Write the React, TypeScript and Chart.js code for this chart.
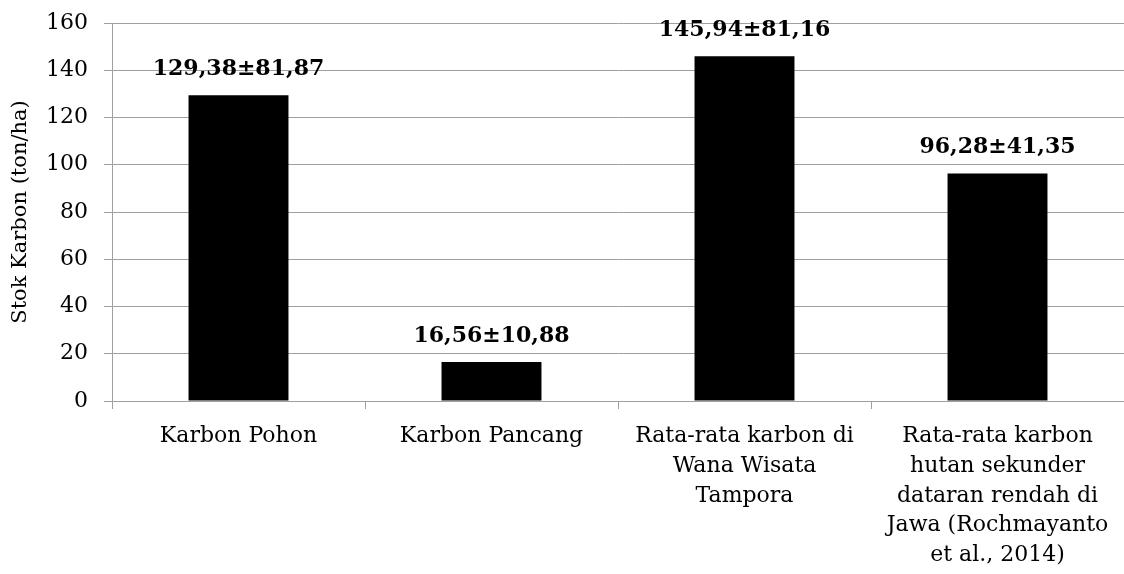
import React, { useEffect, useRef } from "react";
import { Chart, registerables } from "chart.js";

Chart.register(...registerables);

const categories: (string | string[])[] = [
  "Karbon Pohon",
  "Karbon Pancang",
  ["Rata-rata karbon di", "Wana Wisata", "Tampora"],
  ["Rata-rata karbon", "hutan sekunder", "dataran rendah di", "Jawa (Rochmayanto", "et al., 2014)"],
];
const values = [129.38, 16.56, 145.94, 96.28];
const valueLabels = ["129,38±81,87", "16,56±10,88", "145,94±81,16", "96,28±41,35"];
const yTitle = "Stok Karbon (ton/ha)";

const FONT = "'DejaVu Serif', serif";
const GRID = "#a0a0a0";

const labelPlugin = {
  id: "valueLabels",
  afterDatasetsDraw(chart: any) {
    const ctx = chart.ctx;
    const meta = chart.getDatasetMeta(0);
    ctx.save();
    ctx.font = `bold 22px ${FONT}`;
    ctx.fillStyle = "#000";
    ctx.textAlign = "center";
    ctx.textBaseline = "bottom";
    meta.data.forEach((bar: any, i: number) => {
      ctx.fillText(valueLabels[i], bar.x, bar.y - 15);
    });
    ctx.restore();
  },
};

export default function App() {
  const ref = useRef<HTMLCanvasElement>(null);
  useEffect(() => {
    document.body.style.margin = "0";
    const chart = new Chart(ref.current!, {
      type: "bar",
      data: {
        labels: categories,
        datasets: [
          {
            data: values,
            backgroundColor: "#000",
            borderWidth: 0,
            barPercentage: 0.395,
            categoryPercentage: 1,
          },
        ],
      },
      options: {
        animation: false,
        responsive: false,
        maintainAspectRatio: false,
        layout: { padding: { top: 23, right: 0, left: 0, bottom: 0 } },
        plugins: { legend: { display: false }, tooltip: { enabled: false } },
        scales: {
          x: {
            offset: true,
            grid: {
              offset: true,
              drawOnChartArea: false,
              drawTicks: true,
              tickLength: 8,
              color: GRID,
            },
            border: { color: GRID, width: 1 },
            ticks: {
              color: "#000",
              font: { family: FONT, size: 22, lineHeight: 1.36 },
              padding: 12,
              maxRotation: 0,
              autoSkip: false,
            },
            afterFit(scale: any) {
              scale.height = 173;
              scale.paddingLeft = 0;
              scale.paddingRight = 0;
            },
          },
          y: {
            min: 0,
            max: 160,
            ticks: {
              stepSize: 20,
              color: "#000",
              font: { family: FONT, size: 22 },
              padding: 16,
            },
            grid: { color: GRID, tickLength: 8, lineWidth: 1 },
            border: { color: GRID, width: 1 },
            title: {
              display: true,
              text: yTitle,
              color: "#000",
              font: { family: FONT, size: 21 },
              padding: { top: 8, bottom: 4 },
            },
            afterFit(scale: any) {
              scale.width = 112;
              scale.paddingTop = 0;
              scale.paddingBottom = 0;
            },
          },
        },
      },
      plugins: [labelPlugin],
    });
    return () => chart.destroy();
  }, []);
  return (
    <div style={{ position: "absolute", left: 0, top: 0, width: 1124, height: 574 }}>
      <canvas ref={ref} width={1124} height={574} />
    </div>
  );
}
